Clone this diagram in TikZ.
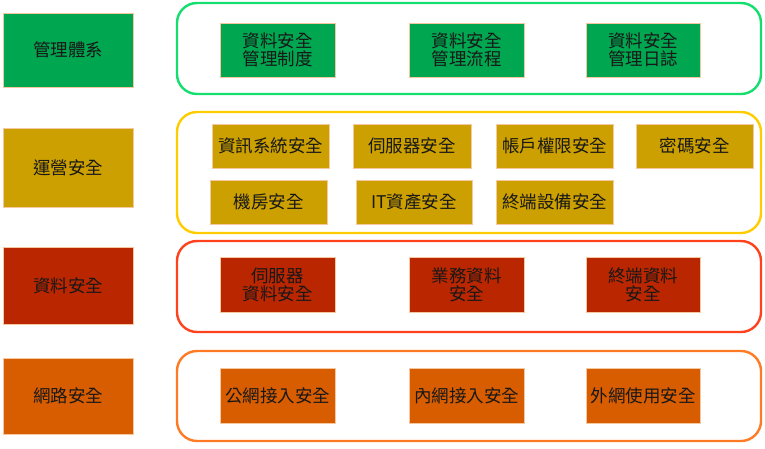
\documentclass[tikz,border=0pt]{standalone}
\usepackage{fontspec}
\setmainfont{Noto Sans CJK TC}
\definecolor{grnfill}{RGB}{0,166,80}
\definecolor{grnline}{RGB}{20,222,110}
\definecolor{gldfill}{RGB}{204,160,0}
\definecolor{gldline}{RGB}{255,204,0}
\definecolor{redfill}{RGB}{186,38,0}
\definecolor{redline}{RGB}{255,66,30}
\definecolor{orgfill}{RGB}{216,92,0}
\definecolor{orgline}{RGB}{255,122,36}
\definecolor{peach}{RGB}{246,200,160}
\definecolor{ink}{RGB}{24,24,24}
\tikzset{
  lvlbox/.style={draw=peach,line width=0.8pt,inner sep=0pt,align=center,text=ink,
    font=\fontsize{17.5}{18}\selectfont},
  itembox/.style={lvlbox},
  frame/.style={draw,line width=2.4pt,rounded corners=20pt,inner sep=0pt,
    minimum width=584pt}
}
\begin{document}
\begin{tikzpicture}[x=1pt,y=-1pt]
\useasboundingbox (0,0) rectangle (765,448);
% frames
\node[frame,draw=grnline,minimum height=91pt] (fmgmt) at (469,48.5) {};
\node[frame,draw=gldline,minimum height=121pt] (fops) at (469,172.5) {};
\node[frame,draw=redline,minimum height=91pt] (fdata) at (469,286.5) {};
\node[frame,draw=orgline,minimum height=90pt] (fnet) at (469,396) {};
% levels
\node[lvlbox,fill=grnfill,minimum width=130pt,minimum height=74pt] (mgmt) at (68,50) {管理體系};
\node[lvlbox,fill=gldfill,minimum width=130pt,minimum height=79pt] (ops) at (68,167.5) {運營安全};
\node[lvlbox,fill=redfill,minimum width=130pt,minimum height=77pt] (data) at (68,285.5) {資料安全};
\node[lvlbox,fill=orgfill,minimum width=130pt,minimum height=76pt] (net) at (68,396) {網路安全};
% management
\node[itembox,fill=grnfill,minimum width=115pt,minimum height=54pt] (m1) at (277.5,50) {資料安全\\管理制度};
\node[itembox,fill=grnfill,minimum width=115pt,minimum height=54pt] (m2) at (466.5,50) {資料安全\\管理流程};
\node[itembox,fill=grnfill,minimum width=114pt,minimum height=54pt] (m3) at (643,50) {資料安全\\管理日誌};
% operations
\node[itembox,fill=gldfill,minimum width=117pt,minimum height=44pt] (o1) at (270.5,146) {資訊系統安全};
\node[itembox,fill=gldfill,minimum width=118pt,minimum height=44pt] (o2) at (412,146) {伺服器安全};
\node[itembox,fill=gldfill,minimum width=117pt,minimum height=44pt] (o3) at (554.5,146) {帳戶權限安全};
\node[itembox,fill=gldfill,minimum width=117pt,minimum height=44pt] (o4) at (694.5,146) {密碼安全};
\node[itembox,fill=gldfill,minimum width=117pt,minimum height=44pt] (o5) at (268.5,202) {機房安全};
\node[itembox,fill=gldfill,minimum width=116pt,minimum height=44pt] (o6) at (414,202) {IT資產安全};
\node[itembox,fill=gldfill,minimum width=117pt,minimum height=44pt] (o7) at (554.5,202) {終端設備安全};
% data
\node[itembox,fill=redfill,minimum width=115pt,minimum height=55pt] (d1) at (277.5,285) {伺服器\\資料安全};
\node[itembox,fill=redfill,minimum width=115pt,minimum height=55pt] (d2) at (466.5,285) {業務資料\\安全};
\node[itembox,fill=redfill,minimum width=114pt,minimum height=55pt] (d3) at (643,285) {終端資料\\安全};
% network
\node[itembox,fill=orgfill,minimum width=115pt,minimum height=55pt] (n1) at (277.5,395.5) {公網接入安全};
\node[itembox,fill=orgfill,minimum width=115pt,minimum height=55pt] (n2) at (466.5,395.5) {內網接入安全};
\node[itembox,fill=orgfill,minimum width=114pt,minimum height=55pt] (n3) at (643,395.5) {外網使用安全};
\end{tikzpicture}
\end{document}
